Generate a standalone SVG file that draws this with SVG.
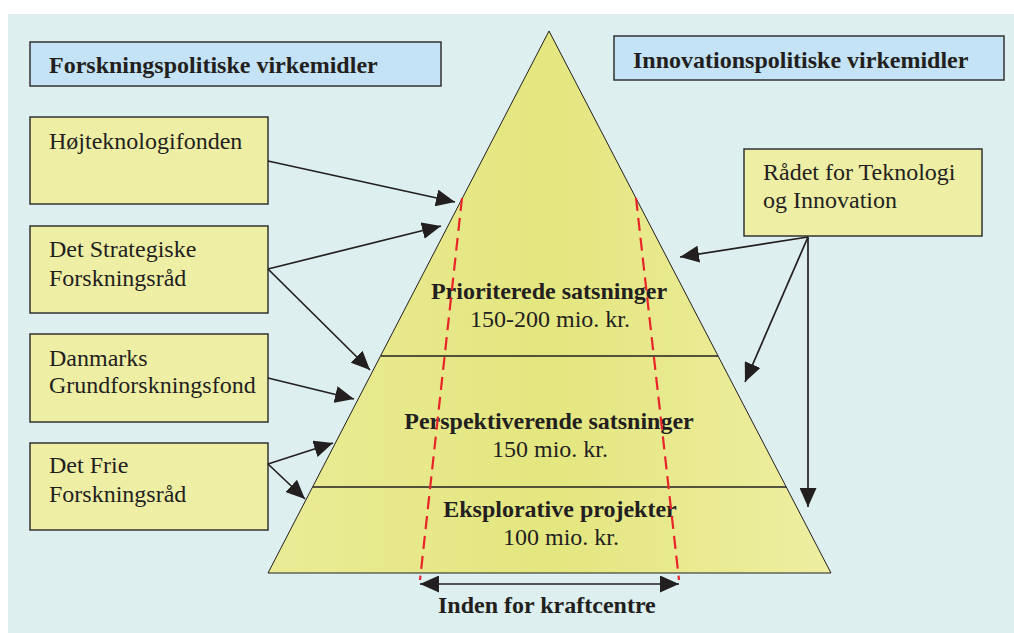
<svg xmlns="http://www.w3.org/2000/svg" width="1014" height="633" viewBox="0 0 1014 633">
<style>
.bg{fill:#ddf0ef}
.title{fill:#c5e3f6;stroke:#333;stroke-width:1.5}
.box{fill:#eeeea5;stroke:#333;stroke-width:1.5}
.t{font-family:"Liberation Serif","Times New Roman",serif;font-size:24px;fill:#231f20}
.b{font-weight:bold}
.c{text-anchor:middle}
.con{stroke:#231f20;stroke-width:1.7;fill:none}
.sep{stroke:#231f20;stroke-width:1.6}
.red{stroke:#e8232a;stroke-width:2.2;stroke-dasharray:13,7;fill:none}
</style>
<defs>
<marker id="ah" viewBox="0 0 19 17" markerUnits="userSpaceOnUse" markerWidth="19" markerHeight="17" refX="19" refY="8.5" orient="auto-start-reverse">
<path d="M0,0 L19,8.5 L0,17 Z" fill="#231f20"/>
</marker>
<linearGradient id="pg" x1="0" y1="0" x2="1" y2="0">
<stop offset="0" stop-color="#eaeb96"/>
<stop offset="0.5" stop-color="#e4e67f"/>
<stop offset="1" stop-color="#eeeea2"/>
</linearGradient>
</defs>
<rect class="bg" x="8" y="14" width="1006" height="619"/>

<g id="pyramid">
<polygon points="549,31 831,573 268,573" fill="url(#pg)" stroke="#231f20" stroke-width="1"/>
<line class="sep" x1="381" y1="356" x2="718" y2="356"/>
<line class="sep" x1="313" y1="487" x2="786" y2="487"/>
<text class="t b c" x="549" y="299">Prioriterede satsninger</text>
<text class="t c" x="550" y="327">150-200 mio. kr.</text>
<text class="t b c" x="549" y="429">Perspektiverende satsninger</text>
<text class="t c" x="550" y="457">150 mio. kr.</text>
<text class="t b c" x="560" y="517">Eksplorative projekter</text>
<text class="t c" x="561" y="545">100 mio. kr.</text>
<line class="red" x1="462" y1="198" x2="420" y2="580"/>
<line class="red" x1="636" y1="198" x2="679" y2="580"/>
</g>

<g id="title-left">
<rect class="title" x="30" y="42" width="411" height="44"/>
<text class="t b" x="49" y="73">Forskningspolitiske virkemidler</text>
</g>
<g id="title-right">
<rect class="title" x="614" y="36" width="390" height="44"/>
<text class="t b" x="633" y="68">Innovationspolitiske virkemidler</text>
</g>

<g id="hoej">
<rect class="box" x="30" y="117" width="238" height="87"/>
<text class="t" x="49" y="149">Højteknologifonden</text>
</g>
<g id="strategiske">
<rect class="box" x="30" y="226" width="238" height="87"/>
<text class="t" x="49" y="257">Det Strategiske</text>
<text class="t" x="49" y="286">Forskningsråd</text>
</g>
<g id="danmarks">
<rect class="box" x="30" y="334" width="238" height="88"/>
<text class="t" x="49" y="366">Danmarks</text>
<text class="t" x="49" y="393">Grundforskningsfond</text>
</g>
<g id="frie">
<rect class="box" x="30" y="443" width="238" height="87"/>
<text class="t" x="49" y="473">Det Frie</text>
<text class="t" x="49" y="502">Forskningsråd</text>
</g>
<g id="raadet">
<rect class="box" x="744" y="149" width="238" height="87"/>
<text class="t" x="763" y="180">Rådet for Teknologi</text>
<text class="t" x="763" y="208">og Innovation</text>
</g>

<g id="connectors">
<line class="con" x1="268" y1="161" x2="455" y2="202" marker-end="url(#ah)"/>
<line class="con" x1="268" y1="269" x2="441" y2="226" marker-end="url(#ah)"/>
<line class="con" x1="268" y1="269" x2="370" y2="370" marker-end="url(#ah)"/>
<line class="con" x1="268" y1="378" x2="354" y2="399" marker-end="url(#ah)"/>
<line class="con" x1="268" y1="464" x2="333" y2="443" marker-end="url(#ah)"/>
<line class="con" x1="268" y1="464" x2="305" y2="499" marker-end="url(#ah)"/>
<line class="con" x1="808" y1="237" x2="680" y2="257" marker-end="url(#ah)"/>
<line class="con" x1="808" y1="237" x2="745" y2="382" marker-end="url(#ah)"/>
<line class="con" x1="808" y1="237" x2="808" y2="507" marker-end="url(#ah)"/>
<line class="con" x1="420" y1="584" x2="679" y2="584" stroke-width="2" marker-start="url(#ah)" marker-end="url(#ah)"/>
</g>
<text id="kraft" class="t b" x="438" y="613">Inden for kraftcentre</text>
</svg>
